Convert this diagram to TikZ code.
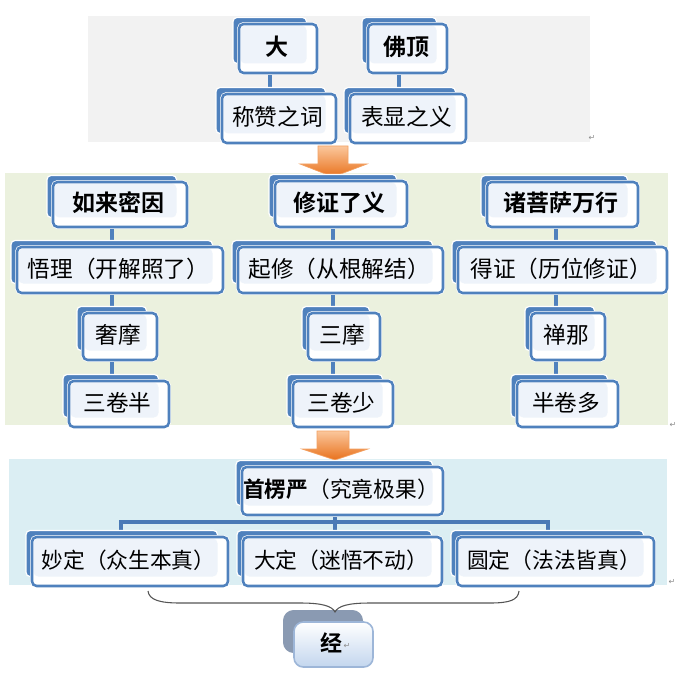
\documentclass[tikz,border=0pt]{standalone}
\usepackage{fontspec}
\setmainfont{Noto Sans CJK SC}[BoldFont={Noto Sans CJK SC Bold}]
\newfontfamily\dejavu{DejaVu Sans}
\usetikzlibrary{calc}
\definecolor{boxblue}{HTML}{4F81BD}
\definecolor{linkblue}{HTML}{4A7AB6}
\definecolor{boxlight}{HTML}{EEF3FA}
\definecolor{panelgray}{HTML}{F2F2F2}
\definecolor{panelgreen}{HTML}{EBF1DE}
\definecolor{panelblue}{HTML}{DBEEF3}
\definecolor{arrowlight}{HTML}{FBC79C}
\definecolor{arrowdark}{HTML}{E8711C}
\definecolor{arrowedge}{HTML}{F3A163}
\definecolor{jingback}{HTML}{8A9AB2}
\definecolor{jingedge}{HTML}{9DB6D8}
\definecolor{jingbottom}{HTML}{C3D6EE}
\definecolor{bracegray}{HTML}{555555}
\definecolor{markgray}{HTML}{8C8C8C}
\pgfdeclarelayer{bg}
\pgfdeclarelayer{links}
\pgfsetlayers{bg,links,main}
\tikzset{
  backbox/.style={fill=boxblue, draw=white, line width=0.9pt, rounded corners=3pt},
  frontbox/.style={draw=boxblue, fill=white, line width=1.9pt, rounded corners=3.5pt,
    inner sep=0pt, preaction={draw=white, line width=2.9pt},
    path picture={\fill[boxlight] ([shift={(1.5,1.5)}]path picture bounding box.north west)
      rectangle ([shift={(-10.5,-9.5)}]path picture bounding box.south east);}},
  hd/.style={font=\fontsize{17.25}{20}\selectfont\bfseries, inner sep=0pt},
  tx/.style={font=\fontsize{17}{20}\selectfont, inner sep=0pt},
  txs/.style={font=\fontsize{16.3}{19}\selectfont, inner sep=0pt},
  conn/.style={draw=boxblue, line width=2.3pt},
  busline/.style={draw=linkblue, line width=2.3pt},
  arrowfill/.style={top color=arrowlight, bottom color=arrowdark, draw=arrowedge, line width=0.5pt},
  jingbox/.style={top color=white, bottom color=jingbottom, draw=jingedge, line width=1.2pt,
    rounded corners=7pt, inner sep=0pt},
  pmark/.style={font=\dejavu\fontsize{6}{7}\selectfont, text=markgray, inner sep=0pt},
  bracepath/.style={draw=bracegray, line width=0.8pt}
}
\newcommand{\hbx}[7]{%
  \path[backbox] (#2-6,#3-6.5) rectangle (#4-10.5,#5-9.5);
  \pgfmathsetmacro{\hbxw}{(#4-(#2))*0.75}%
  \pgfmathsetmacro{\hbxh}{(#5-(#3))*0.75}%
  \node[frontbox, minimum width=\hbxw pt, minimum height=\hbxh pt] (#1) at ({(#2+#4)/2},{(#3+#5)/2}) {};
  \node[#6] (#1-t) at ([shift={(-1.5,-1.5)}]#1.center) {#7};
}
\begin{document}
\begin{tikzpicture}[x=0.75pt, y=-0.75pt]
\useasboundingbox (0,0) rectangle (679,691);
\begin{pgfonlayer}{bg}
  \fill[white] (0,0) rectangle (679,691);
  \fill[panelgray] (88,16) rectangle (590,142);
  \fill[panelgreen] (5,173) rectangle (668,425);
  \fill[panelblue] (9,459) rectangle (667,585);
\end{pgfonlayer}

% top section
\hbx{da}{239}{24}{317}{73}{hd}{大}
\hbx{foding}{368}{24}{447}{73}{hd}{佛顶}
\hbx{chengzan}{222}{94}{336}{143}{tx}{称赞之词}
\hbx{biaoxian}{350}{94}{466}{143}{tx}{表显之义}

% arrow 1
\path[arrowfill] (318,146) -- (348,146) -- (348,164) -- (367,164) -- (333,177) -- (300,164) -- (318,164) -- cycle;

% middle section
\hbx{rulai}{53}{182}{187}{227}{hd}{如来密因}
\hbx{xiuzheng}{275}{181}{407}{227}{hd}{修证了义}
\hbx{zhupusa}{487}{182}{638}{227}{hd}{诸菩萨万行}
\hbx{wuli}{17}{247}{223}{293}{tx}{悟理（开解照了）}
\hbx{qixiu}{238}{247}{443}{293}{tx}{起修（从根解结）}
\hbx{dezheng}{458}{247}{667}{293}{tx}{得证（历位修证）}
\hbx{shemo}{83}{313}{157}{360}{tx}{奢摩}
\hbx{sanmo}{308}{313}{380}{360}{tx}{三摩}
\hbx{channa}{531}{313}{605}{360}{tx}{禅那}
\hbx{sanjuanban}{69}{381}{169}{427}{tx}{三卷半}
\hbx{sanjuanshao}{293}{381}{393}{427}{tx}{三卷少}
\hbx{banjuanduo}{517}{381}{618}{427}{tx}{半卷多}

% arrow 2
\path[arrowfill] (317,431) -- (349,431) -- (349,449) -- (368,449) -- (335,460) -- (302,449) -- (317,449) -- cycle;

% bottom section
\hbx{shoulengyan}{242}{467}{443}{515}{txs}{{\bfseries 首楞严}（究竟极果）}
\hbx{miaoding}{32}{537}{228}{586}{txs}{妙定（众生本真）}
\hbx{dading}{243}{537}{442}{586}{txs}{大定（迷悟不动）}
\hbx{yuanding}{457}{537}{654}{586}{txs}{圆定（法法皆真）}

% jing
\path[fill=jingback, rounded corners=8pt] (283,610) rectangle (363,653);
\node[jingbox, minimum width=59.25pt, minimum height=33.75pt] (jing) at (333.5,644.5) {};
\node[hd, font=\fontsize{16.5}{19}\selectfont\bfseries] (jing-t) at (331,643) {经};
\node[pmark, anchor=west] (m4) at ([shift={(1,3)}]jing-t.east) {↵};

% paragraph marks
\node[pmark] (m1) at (592,138) {↵};
\node[pmark] (m2) at (673,425) {↵};
\node[pmark] (m3) at (672,582) {↵};

% brace
\draw[bracepath] (148,591) .. controls (149,600) and (160,603) .. (180,603) -- (300,603)
  .. controls (322,603) and (332,606) .. (335,612)
  .. controls (338,606) and (348,603) .. (370,603) -- (490,603)
  .. controls (510,603) and (518,600) .. (519,591);

% connectors
\coordinate (xa) at (270,0);
\coordinate (xb) at (399,0);
\coordinate (xl) at (112,0);
\coordinate (xm) at (333,0);
\coordinate (xr) at (556,0);
\coordinate (xc) at (335,0);
\coordinate (busl) at (121,522);
\coordinate (busr) at (548,522);
\begin{pgfonlayer}{links}
  \draw[conn] (da -| xa) -- (chengzan -| xa);
  \draw[conn] (foding -| xb) -- (biaoxian -| xb);
  \draw[conn] (rulai -| xl) -- (sanjuanban -| xl);
  \draw[conn] (xiuzheng -| xm) -- (sanjuanshao -| xm);
  \draw[conn] (zhupusa -| xr) -- (banjuanduo -| xr);
  \draw[busline] (shoulengyan -| xc) -- (dading -| xc);
  \draw[busline] (miaoding -| busl) -- (busl) -- (busr) -- (yuanding -| busr);
\end{pgfonlayer}
\end{tikzpicture}
\end{document}
